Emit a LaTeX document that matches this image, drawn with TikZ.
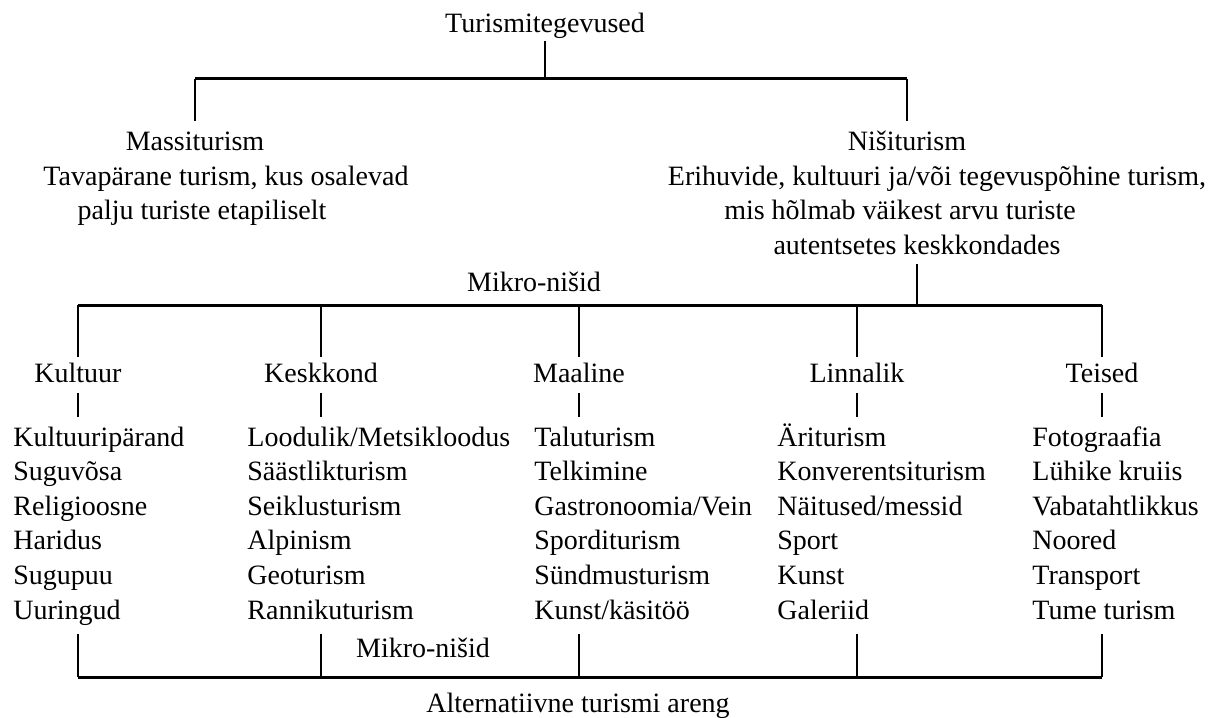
\documentclass[tikz,border=0pt]{standalone}
\usepackage{fontspec}
\setmainfont{Liberation Serif}
\begin{document}
\begin{tikzpicture}[x=0.5pt,y=-0.5pt,
  txt/.style={anchor=base,inner sep=2pt,text height=10pt,text depth=3pt,font=\fontsize{14}{17.3}\selectfont},
  items/.style={anchor=north west,align=left,inner xsep=0pt,inner ysep=2.2pt,font=\fontsize{14}{17.3}\selectfont},
  stem/.style={line width=0.9pt},
  bar/.style={line width=1.5pt}]
  \useasboundingbox (0,0) rectangle (1219,717);

  % Top level
  \node[txt,inner ysep=0.75pt] (top) at (545,33) {Turismitegevused};
  \coordinate (mainbar) at (0,79);

  % Mass and niche tourism
  \node[txt,inner ysep=4.5pt] (mass) at (195,150) {Massiturism};
  \node[txt] (mass1) at (226,185) {Tavapärane turism, kus osalevad};
  \node[txt] (mass2) at (202,219) {palju turiste etapiliselt};
  \node[txt,inner ysep=4.5pt] (nisi) at (907,150) {Nišiturism};
  \node[txt] (nisi1) at (937,185) {Erihuvide, kultuuri ja/või tegevuspõhine turism,};
  \node[txt] (nisi2) at (900,219) {mis hõlmab väikest arvu turiste};
  \node[txt,inner ysep=2pt] (nisi3) at (917,254) {autentsetes keskkondades};

  % Micro-niches
  \node[txt] (mikro) at (534,291) {Mikro-nišid};
  \coordinate (mikrobar) at (0,305);
  \node[txt,inner ysep=2.5pt] (kultuur) at (78,382) {Kultuur};
  \node[txt,inner ysep=2.5pt] (keskkond) at (321,382) {Keskkond};
  \node[txt,inner ysep=2.5pt] (maaline) at (579,382) {Maaline};
  \node[txt,inner ysep=2.5pt] (linnalik) at (857,382) {Linnalik};
  \node[txt,inner ysep=2.5pt] (teised) at (1102,382) {Teised};

  % Lists
  \node[items] (kultuurlist) at (13,417) {\strut Kultuuripärand\\Suguvõsa\\Religioosne\\Haridus\\Sugupuu\\Uuringud\strut};
  \node[items] (keskkondlist) at (247,417) {\strut Loodulik/Metsikloodus\\Säästlikturism\\Seiklusturism\\Alpinism\\Geoturism\\Rannikuturism\strut};
  \node[items] (maalinelist) at (534,417) {\strut Taluturism\\Telkimine\\Gastronoomia/Vein\\Sporditurism\\Sündmusturism\\Kunst/käsitöö\strut};
  \node[items] (linnaliklist) at (777,417) {\strut Äriturism\\Konverentsiturism\\Näitused/messid\\Sport\\Kunst\\Galeriid\strut};
  \node[items] (teisedlist) at (1032,417) {\strut Fotograafia\\Lühike kruiis\\Vabatahtlikkus\\Noored\\Transport\\Tume turism\strut};

  % Bottom
  \node[txt] (mikro2) at (423,657) {Mikro-nišid};
  \coordinate (altbar) at (0,677);
  \node[txt] (alt) at (578,712) {Alternatiivne turismi areng};

  % Top branches
  \draw[stem] (top.south) -- (top.south |- mainbar);
  \draw[bar] (mass.north |- mainbar) -- (nisi.north |- mainbar);
  \draw[stem] (mass.north |- mainbar) -- (mass.north);
  \draw[stem] (nisi.north |- mainbar) -- (nisi.north);

  % Micro-niche branches
  \draw[stem] (nisi3.south) -- (nisi3.south |- mikrobar);
  \draw[bar] (kultuur.north |- mikrobar) -- (teised.north |- mikrobar);
  \draw[stem] (kultuur.north |- mikrobar) -- (kultuur.north);
  \draw[stem] (keskkond.north |- mikrobar) -- (keskkond.north);
  \draw[stem] (maaline.north |- mikrobar) -- (maaline.north);
  \draw[stem] (linnalik.north |- mikrobar) -- (linnalik.north);
  \draw[stem] (teised.north |- mikrobar) -- (teised.north);

  % Category to list
  \draw[stem] (kultuur.south) -- (kultuur.south |- kultuurlist.north);
  \draw[stem] (keskkond.south) -- (keskkond.south |- keskkondlist.north);
  \draw[stem] (maaline.south) -- (maaline.south |- maalinelist.north);
  \draw[stem] (linnalik.south) -- (linnalik.south |- linnaliklist.north);
  \draw[stem] (teised.south) -- (teised.south |- teisedlist.north);

  % Alternative development
  \draw[stem] (kultuur |- kultuurlist.south) -- (kultuur |- altbar);
  \draw[stem] (keskkond |- keskkondlist.south) -- (keskkond |- altbar);
  \draw[stem] (maaline |- maalinelist.south) -- (maaline |- altbar);
  \draw[stem] (linnalik |- linnaliklist.south) -- (linnalik |- altbar);
  \draw[stem] (teised |- teisedlist.south) -- (teised |- altbar);
  \draw[bar] (kultuur |- altbar) -- (teised |- altbar);
\end{tikzpicture}
\end{document}
